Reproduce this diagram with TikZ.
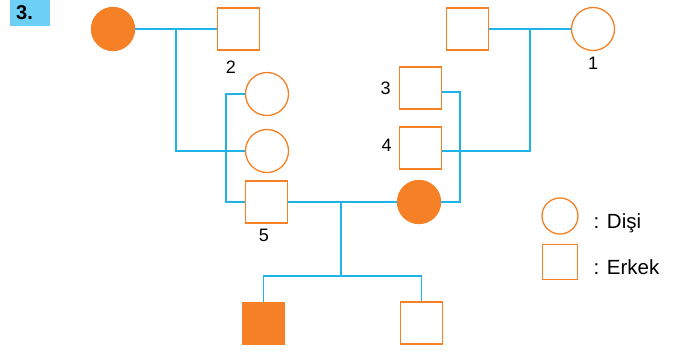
\documentclass[tikz,border=0pt]{standalone}
\usepackage{fontspec}
\setmainfont{Liberation Sans}
\definecolor{orng}{HTML}{F58025}
\definecolor{blu}{HTML}{1EB4EA}
\definecolor{lblu}{HTML}{6DCFF6}
\begin{document}
\begin{tikzpicture}[x=1bp,y=-1bp,
  fem/.style={circle,draw=orng,line width=1.3bp,minimum size=43bp,inner sep=0pt},
  mal/.style={rectangle,draw=orng,line width=1.3bp,minimum size=42bp,inner sep=0pt},
  aff/.style={fill=orng},
  link/.style={draw=blu,line width=1.5bp},
  num/.style={inner sep=0pt,font=\fontsize{18bp}{18bp}\selectfont},
  leg/.style={anchor=base west,inner sep=0pt,font=\fontsize{20.5bp}{20.5bp}\selectfont}]
\useasboundingbox (0,0) rectangle (684,353);
% title
\fill[lblu] (10,0) rectangle (50,26);
\node[inner sep=0pt,font=\fontsize{20bp}{20bp}\selectfont\bfseries] (title) at (24.5,13) {3.};
% generation I
\node[fem,aff] (g1) at (113,29) {};
\node[mal] (s2) at (238.5,29) {};
\node[mal] (s1) at (467.5,29) {};
\node[fem] (c1) at (593,29) {};
% generation II
\node[fem] (ca) at (267,94) {};
\node[fem] (cb) at (267,151) {};
\node[mal] (s3) at (420.5,88) {};
\node[mal] (s4) at (420.5,148) {};
% generation III
\node[mal] (s5) at (266.5,202) {};
\node[fem,aff] (f) at (419,202) {};
% generation IV
\node[mal,aff] (k1) at (263.5,323.5) {};
\node[mal] (k2) at (421.5,323) {};
% numbers
\node[num] (n2) at (231,67) {2};
\node[num] (n1) at (593,63) {1};
\node[num] (n3) at (385.5,88.5) {3};
\node[num] (n4) at (386.5,145) {4};
\node[num] (n5) at (264,235) {5};
% connectors
\coordinate (j1) at (176,29);
\draw[link] (g1.east) -- (s2.west);
\draw[link] (j1) |- (cb.west);
\coordinate (j2) at (226,94);
\draw[link] (ca.west) -- (j2) |- (s5.west);
\draw[link] (s1.east) -- (c1.west);
\coordinate (j4) at (530,29);
\coordinate (j4b) at (530,151);
\draw[link] (s4.east |- j4b) -- (j4b) -- (j4);
\coordinate (j3) at (460,92);
\draw[link] (s3.east |- j3) -- (j3) |- (f.east);
\draw[link] (s5.east) -- (f.west);
\coordinate (m) at (341,202);
\coordinate (sib) at (341,276);
\draw[link] (m) -- (sib);
\draw[link] (k1.north) |- (sib) -| (k2.north);
% legend
\node[fem,minimum size=36bp] (lc) at (560,216) {};
\node[mal,minimum size=35bp] (ls) at (560,262) {};
\node[leg] (ld) at (593.5,228) {: Dişi};
\node[leg] (le) at (593.5,274) {: Erkek};
\end{tikzpicture}
\end{document}
